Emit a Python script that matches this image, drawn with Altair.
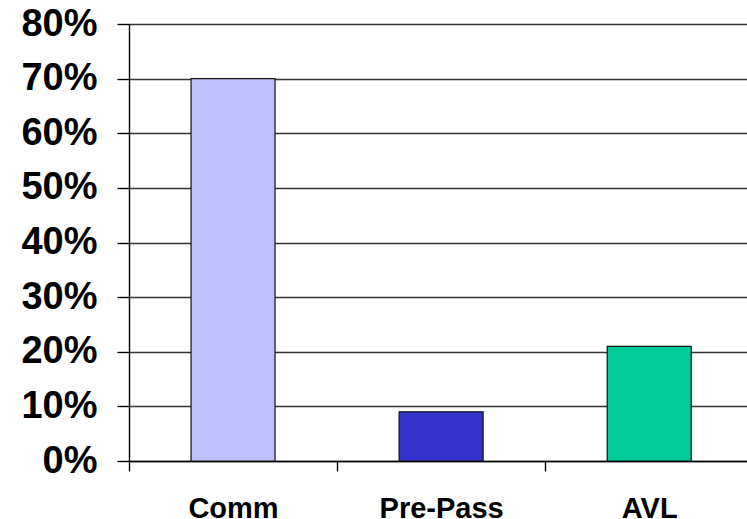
import altair as alt
import pandas as pd

# Share of each category
categories = ["Comm", "Pre-Pass", "AVL"]
shares = [0.70, 0.09, 0.21]
colors = ["#C0C0FF", "#3333CC", "#00CC99"]
y_ticks = [0.0, 0.1, 0.2, 0.3, 0.4, 0.5, 0.6, 0.7, 0.8]

df = pd.DataFrame({
    "category": categories,
    "share": shares,
    "slot": [i + 0.5 for i in range(len(categories))],
})

PLOT_W = 618
PLOT_H = 437
X_MAX = 2.97  # the last category slot runs past the right edge
half_slot_px = PLOT_W / X_MAX / 2

label_expr = "[" + ",".join(f"'{c}'" for c in categories) + "][datum.value]"

bars = alt.Chart(df).mark_bar(size=84, stroke="#111111", strokeWidth=1.2).encode(
    x=alt.X(
        "slot:Q",
        scale=alt.Scale(domain=[0, X_MAX], nice=False, zero=False, padding=0),
        axis=alt.Axis(
            values=list(range(len(categories))),
            labelExpr=label_expr,
            labelOffset=half_slot_px,
            labelFlush=False,
            labelOverlap=False,
            labelBound=False,
            grid=False,
            title=None,
            tickSize=10,
            labelPadding=23,
            labelBaseline="top",
            labelFontSize=29,
        ),
    ),
    y=alt.Y(
        "share:Q",
        scale=alt.Scale(domain=[0, 0.8], nice=False, padding=0),
        axis=alt.Axis(
            values=y_ticks,
            format=".0%",
            grid=True,
            title=None,
            tickSize=12,
            labelPadding=20,
            labelFontSize=38,
            labelBaseline="middle",
        ),
    ),
    color=alt.Color(
        "category:N",
        scale=alt.Scale(domain=categories, range=colors),
        legend=None,
    ),
)

chart = bars.properties(
    width=PLOT_W,
    height=PLOT_H,
    autosize=alt.AutoSizeParams(type="none"),
    padding={"left": 129, "top": 24, "right": 0, "bottom": 58},
    background="white",
).configure_view(
    stroke=None,
).configure_axis(
    labelFont="Liberation Sans",
    labelFontWeight="bold",
    labelColor="#000000",
    domainColor="#000000",
    domainWidth=1.4,
    tickColor="#000000",
    tickWidth=1.4,
    gridColor="#333333",
    gridWidth=1.4,
    gridOpacity=1,
)

chart.save("out.html", embed_options={"renderer": "svg", "actions": False})
